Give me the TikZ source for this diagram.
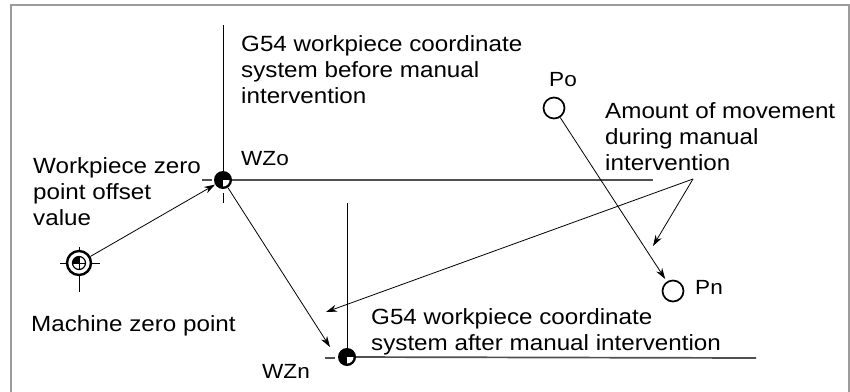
\documentclass[tikz,border=0pt]{standalone}
\usepackage{fontspec}
\setmainfont{Liberation Sans}[FakeStretch=1.1]
\usetikzlibrary{arrows.meta, positioning}
\definecolor{FrameGray}{HTML}{9C9C9C}
\definecolor{AxisGray}{HTML}{505050}

\begin{document}
\begin{tikzpicture}[x=1pt, y=-1pt,
    txt/.style={anchor=north west, inner sep=0pt, align=left, font=\fontsize{22}{26.4}\selectfont},
    tag/.style={anchor=north west, inner sep=0pt, font=\fontsize{20.5}{22}\selectfont},
    arr/.style={-{Stealth[length=11pt,width=7pt]}, line width=0.8pt},
    axisx/.style={line width=1.7pt, AxisGray},
    axisy/.style={line width=1pt},
    zpt/.style={circle, fill=black, minimum size=18pt, inner sep=0pt},
    pcirc/.style={circle, draw, line width=1.7pt, minimum size=21pt, inner sep=0pt}]
    \useasboundingbox (0,0) rectangle (850,391);
    % Frame, open at the bottom
    \draw[FrameGray, line width=1.5pt] (11,395) -- (11,5) -- (849,5) -- (849,395);

    % Zero points
    \coordinate (wzo0) at (223,180);
    \coordinate (wzn0) at (347,357);
    \coordinate (mz0) at (79,263);

    % Axes of the two G54 systems
    \draw[axisy] (223,25) -- (wzo0);
    \draw[axisy] (223,193) -- (223,203);
    \draw[axisx] (wzo0) -- (653,180);
    \draw[axisx] (202,180) -- (212,180);
    \draw[axisy] (347,203) -- (wzn0);
    \draw[axisx] (wzn0) -- (756,358);
    \draw[axisx] (325,358) -- (335,358);

    % Machine zero point symbol
    \draw[line width=1pt] (mz0) ++(-19pt,0pt) -- ++(40pt,0pt);
    \draw[line width=1pt] (mz0) ++(0pt,16pt) -- ++(0pt,-45pt);
    \node[circle, draw, fill=white, line width=2.4pt, minimum size=24pt, inner sep=0pt] (mzero) at (mz0) {};
    \node[circle, draw, line width=1.2pt, minimum size=13pt, inner sep=0pt] (mzin) at (mz0) {};
    \fill (mz0) -- ++(180:6.5pt) arc[start angle=180, end angle=90, radius=6.5pt] -- cycle;
    \draw[line width=0.8pt] (mzin.west) -- (mzin.east) (mzin.north) -- (mzin.south);

    % Workpiece zero points
    \foreach \p in {wzo, wzn} {
        \node[zpt] (\p) at (\p0) {};
        \fill[white] (\p0) -- ++(0:6.5pt) arc[start angle=0, end angle=-90, radius=6.5pt] -- cycle;
    }

    % Tool positions
    \node[pcirc] (po) at (554,108) {};
    \node[pcirc] (pn) at (673,291) {};

    % Arrows
    \coordinate (wzntip) at (330,347);
    \coordinate (fork) at (693,179);
    \coordinate (forka) at (326,312);
    \coordinate (forkb) at (653,246);
    \draw[arr] (mzero) -- (wzo);
    \draw[arr] (wzo) -- (wzntip);
    \draw[arr, shorten >=3pt] (po) -- (pn);
    \draw[arr] (fork) -- (forka);
    \draw[arr] (fork) -- (forkb);

    % Texts
    \node[txt] (before) at (241,35) {G54 workpiece coordinate\\system before manual\\intervention};
    \node[txt] (offset) at (33,157) {Workpiece zero\\point offset\\value};
    \node[txt] (mzlbl) at (31,315) {Machine zero point};
    \node[txt] (after) at (371,308) {G54 workpiece coordinate\\system after manual intervention};
    \node[txt] (amount) at (605,102) {Amount of movement\\during manual\\intervention};
    \node[tag] (wzolbl) at (241,151) {WZo};
    \node[tag] (wznlbl) at (262,364) {WZn};
    \node[tag] (polbl) at (549,72) {Po};
    \node[tag] (pnlbl) at (695,280) {Pn};
\end{tikzpicture}
\end{document}
